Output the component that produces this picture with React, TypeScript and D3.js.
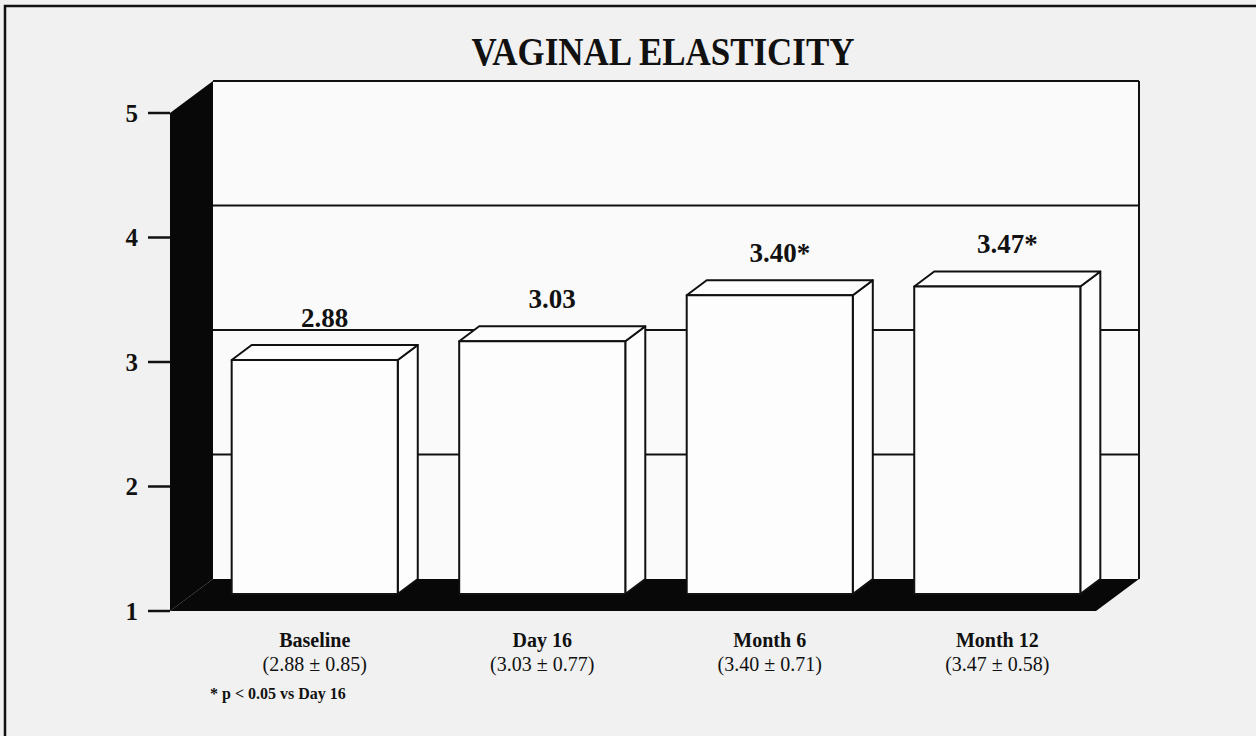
import React, { useEffect, useRef } from 'react'
import * as d3 from 'd3'

// chart data
const categories = ['Baseline', 'Day 16', 'Month 6', 'Month 12']
const means = [2.88, 3.03, 3.40, 3.47]
const sds = [0.85, 0.77, 0.71, 0.58]
const significant = [false, false, true, true]
const yTicks = [1, 2, 3, 4, 5]
const gridValues = [2, 3, 4, 5]
const title = 'VAGINAL ELASTICITY'
const footnote = '* p < 0.05 vs Day 16'

const WIDTH = 1256
const HEIGHT = 736
const FONT = '"Liberation Serif", "Times New Roman", serif'

const App = () => {
    const ref = useRef<SVGSVGElement>(null)

    useEffect(() => {
        const svg = d3.select(ref.current)
        svg.selectAll('*').remove()

        const wallLeft = 213
        const wallRight = 1139
        const depth = { dx: -43, dy: 32 }
        const barDepth = { dx: -20, dy: 15 }

        const yBack = d3.scaleLinear().domain([1, 5]).range([579, 81])
        const yFront = (v: number) => yBack(v) + depth.dy
        const x = d3.scaleBand<string>()
            .domain(categories)
            .range([wallLeft, wallRight])
            .paddingInner(0.27)
            .paddingOuter(0.17)
        const bw = x.bandwidth()

        const rows = categories.map((c, i) => ({ c, m: means[i], sd: sds[i], sig: significant[i] }))

        // page background and frame
        svg.append('rect').attr('width', WIDTH).attr('height', HEIGHT).attr('fill', '#f1f1f1')
        svg.append('path')
            .attr('d', `M5,${HEIGHT} L5,6 L${WIDTH},6`)
            .attr('fill', 'none').attr('stroke', '#111').attr('stroke-width', 2.5)

        // back wall
        const y0 = yBack(1)
        const yTop = yBack(5)
        svg.append('rect')
            .attr('x', wallLeft).attr('y', yTop)
            .attr('width', wallRight - wallLeft).attr('height', y0 - yTop)
            .attr('fill', '#fafafa')
        svg.append('line')
            .attr('x1', wallRight).attr('x2', wallRight).attr('y1', yTop).attr('y2', y0)
            .attr('stroke', '#111').attr('stroke-width', 2)

        svg.append('g')
            .selectAll('line')
            .data(gridValues)
            .enter()
            .append('line')
            .attr('x1', wallLeft).attr('x2', wallRight)
            .attr('y1', d => yBack(d)).attr('y2', d => yBack(d))
            .attr('stroke', '#111').attr('stroke-width', 2)

        // left wall and floor
        svg.append('polygon')
            .attr('points', [
                [wallLeft, yTop], [wallLeft, y0],
                [wallLeft + depth.dx, y0 + depth.dy], [wallLeft + depth.dx, yTop + depth.dy],
            ].join(' '))
            .attr('fill', '#080808')
        svg.append('polygon')
            .attr('points', [
                [wallLeft, y0], [wallRight, y0],
                [wallRight + depth.dx, y0 + depth.dy], [wallLeft + depth.dx, y0 + depth.dy],
            ].join(' '))
            .attr('fill', '#080808')

        // bars
        const bars = svg.append('g')
            .selectAll('g')
            .data(rows)
            .enter()
            .append('g')
            .attr('fill', '#fdfdfd')
            .attr('stroke', '#111')
            .attr('stroke-width', 2)
            .attr('stroke-linejoin', 'round')

        bars.append('polygon')
            .attr('points', d => {
                const x1 = (x(d.c) as number) + bw
                const t = yBack(d.m)
                return [[x1 + barDepth.dx, t + barDepth.dy], [x1, t], [x1, y0], [x1 + barDepth.dx, y0 + barDepth.dy]].join(' ')
            })
        bars.append('polygon')
            .attr('points', d => {
                const x0 = x(d.c) as number
                const t = yBack(d.m)
                return [[x0 + barDepth.dx, t + barDepth.dy], [x0, t], [x0 + bw, t], [x0 + bw + barDepth.dx, t + barDepth.dy]].join(' ')
            })
        bars.append('rect')
            .attr('x', d => (x(d.c) as number) + barDepth.dx)
            .attr('y', d => yBack(d.m) + barDepth.dy)
            .attr('width', bw)
            .attr('height', d => y0 - yBack(d.m))

        // value labels
        svg.append('g')
            .selectAll('text')
            .data(rows)
            .enter()
            .append('text')
            .text(d => d.m.toFixed(2) + (d.sig ? '*' : ''))
            .attr('x', d => (x(d.c) as number) + bw / 2 + barDepth.dx / 2)
            .attr('y', d => yBack(d.m) - 18)
            .attr('text-anchor', 'middle')
            .attr('font-family', FONT)
            .attr('font-weight', 'bold')
            .attr('font-size', 27)
            .attr('fill', '#111')

        // y axis on the front edge of the wall
        const axis = svg.append('g')
        axis.selectAll('line')
            .data(yTicks)
            .enter()
            .append('line')
            .attr('x1', 148).attr('x2', wallLeft + depth.dx)
            .attr('y1', d => yFront(d)).attr('y2', d => yFront(d))
            .attr('stroke', '#111').attr('stroke-width', 2.5)
        axis.selectAll('text')
            .data(yTicks)
            .enter()
            .append('text')
            .text(d => d)
            .attr('x', 138)
            .attr('y', d => yFront(d))
            .attr('dy', '0.35em')
            .attr('text-anchor', 'end')
            .attr('font-family', FONT)
            .attr('font-weight', 'bold')
            .attr('font-size', 25)
            .attr('fill', '#111')

        // category labels
        const cats = svg.append('g')
            .selectAll('g')
            .data(rows)
            .enter()
            .append('g')
            .attr('transform', d => `translate(${(x(d.c) as number) + bw / 2 + barDepth.dx}, 0)`)
            .attr('font-family', FONT)
            .attr('font-size', 20)
            .attr('fill', '#111')
            .attr('text-anchor', 'middle')
        cats.append('text')
            .text(d => d.c)
            .attr('y', 647)
            .attr('font-weight', 'bold')
        cats.append('text')
            .text(d => `(${d.m.toFixed(2)} \u00b1 ${d.sd.toFixed(2)})`)
            .attr('y', 671)

        svg.append('text')
            .text(footnote)
            .attr('x', 210).attr('y', 699)
            .attr('font-family', FONT)
            .attr('font-weight', 'bold')
            .attr('font-size', 16)
            .attr('fill', '#111')

        svg.append('text')
            .text(title)
            .attr('x', 663).attr('y', 65)
            .attr('text-anchor', 'middle')
            .attr('font-family', FONT)
            .attr('font-weight', 'bold')
            .attr('font-size', 39)
            .attr('textLength', 383)
            .attr('lengthAdjust', 'spacingAndGlyphs')
            .attr('fill', '#111')
    }, [])

    return (
        <svg
            ref={ref}
            width={WIDTH}
            height={HEIGHT}
            style={{ position: 'absolute', left: 0, top: 0, display: 'block' }}
        ></svg>
    )
}

export default App
